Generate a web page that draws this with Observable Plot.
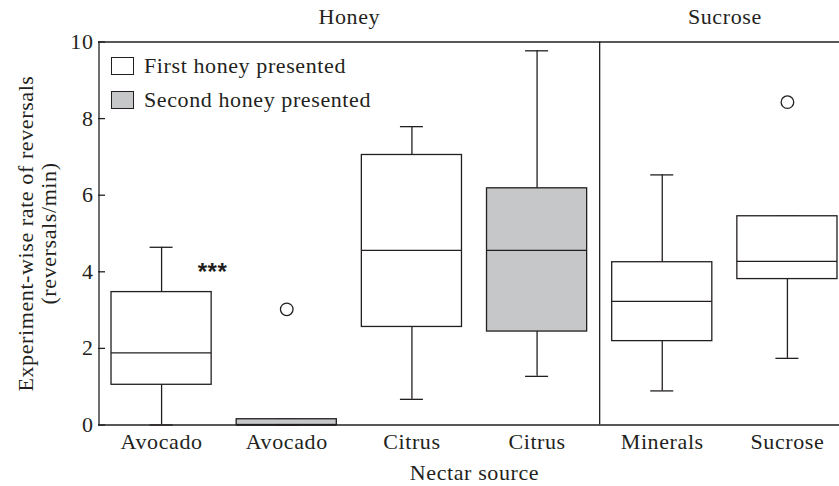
<!DOCTYPE html>
<html><head><meta charset="utf-8">
<script src="https://cdn.jsdelivr.net/npm/d3@7"></script>
<script src="https://cdn.jsdelivr.net/npm/@observablehq/plot@0.6"></script>
<style>
html,body{margin:0;padding:0;background:#fff;}
#wrap{position:relative;width:839px;height:486px;overflow:hidden;font-family:"Liberation Serif","Times New Roman",Tinos,Times,serif;}
#wrap svg{display:block;}
.leg{position:absolute;left:111px;height:20px;display:flex;align-items:center;font-size:22px;letter-spacing:0.6px;color:#231f20;white-space:nowrap;}
.sw{box-sizing:border-box;width:23px;height:18px;border:1.3px solid #231f20;margin-right:10px;}
</style></head><body><div id="wrap"></div>
<script>
// ---- data ----
const categories   = ["Avocado", "Avocado", "Citrus", "Citrus", "Minerals", "Sucrose"];
const groups       = ["Honey", "Honey", "Honey", "Honey", "Sucrose", "Sucrose"];
const presentation = ["First", "Second", "First", "Second", "Control", "Control"];
const whiskerLow   = [0.00, 0.00, 0.67, 1.27, 0.89, 1.74];
const quartile1    = [1.05, 0.00, 2.56, 2.44, 2.19, 3.81];
const medians      = [1.885, 0.00, 4.56, 4.56, 3.23, 4.27];
const quartile3    = [3.47, 0.15, 7.05, 6.18, 4.25, 5.45];
const whiskerHigh  = [4.64, 0.15, 7.79, 9.77, 6.53, 5.45];
const outlierIndex = [1, 5];
const outlierValue = [3.02, 8.43];
const yTicks       = [0, 2, 4, 6, 8, 10];
const legendLabels = ["First honey presented", "Second honey presented"];
const annotationIndex = [0];
const annotationValue = [4.1];
const annotationText  = ["***"];
const yLabel = "Experiment-wise rate of reversals\n(reversals/min)";
const xLabel = "Nectar source";

// ---- styling ----
const ink = "#231f20", grey = "#c6c7c9", sw = 1.3;
const half = 0.4, cap = 0.092;
const serif = "'Liberation Serif', 'Times New Roman', Tinos, Times, serif";
const fillFor = p => p === "Second" ? grey : "white";

const boxes = categories.map((c, i) => ({
  i, c, p: presentation[i], lo: whiskerLow[i], q1: quartile1[i],
  med: medians[i], q3: quartile3[i], hi: whiskerHigh[i]
}));
const outliers = outlierIndex.map((i, k) => ({i, v: outlierValue[k]}));
const annotations = annotationIndex.map((i, k) => ({i, v: annotationValue[k], t: annotationText[k]}));
const groupNames = [...new Set(groups)];
const headers = groupNames.map(g => {
  const idx = groups.map((x, i) => x === g ? i : -1).filter(i => i >= 0);
  return {g, center: d3.mean(idx), end: d3.max(idx)};
});
const boundaries = headers.slice(0, -1).map(h => h.end + 0.5);
const n = categories.length;

const plot = Plot.plot({
  width: 839, height: 486,
  marginLeft: 98, marginTop: 42, marginBottom: 62, marginRight: 0,
  style: {fontFamily: serif, fontSize: "22px", color: ink, background: "white", letterSpacing: "0.6px"},
  x: {domain: [-0.5, n - 0.5], range: [98.5, 849.5]},
  y: {domain: [0, 10], range: [424.5, 41.5]},
  marks: [
    Plot.ruleX(boxes, {x: "i", y1: "lo", y2: "hi", stroke: ink, strokeWidth: sw}),
    Plot.ruleY(boxes, {y: "hi", x1: d => d.i - cap, x2: d => d.i + cap, stroke: ink, strokeWidth: sw}),
    Plot.ruleY(boxes, {y: "lo", x1: d => d.i - cap, x2: d => d.i + cap, stroke: ink, strokeWidth: sw}),
    Plot.rect(boxes, {x1: d => d.i - half, x2: d => d.i + half, y1: "q1", y2: "q3",
      fill: d => fillFor(d.p), stroke: ink, strokeWidth: sw}),
    Plot.ruleY(boxes, {y: "med", x1: d => d.i - half, x2: d => d.i + half, stroke: ink, strokeWidth: sw}),
    Plot.dot(outliers, {x: "i", y: "v", r: 6.3, fill: "white", stroke: ink, strokeWidth: sw}),
    // frame
    Plot.ruleY([0, 10], {stroke: ink, strokeWidth: sw}),
    Plot.ruleX([-0.5], {y1: 0, y2: 10, stroke: ink, strokeWidth: sw}),
    Plot.ruleX(boundaries, {y1: 0, y2: 10, stroke: ink, strokeWidth: sw}),
    Plot.axisY({ticks: yTicks, tickSize: -7, tickPadding: 12, label: null, stroke: ink, strokeWidth: sw}),
    Plot.axisX({ticks: d3.range(n), tickFormat: i => categories[i], tickSize: 0, tickPadding: 9, label: null}),
    Plot.text(headers, {x: "center", text: "g", frameAnchor: "top", dy: -25.5, lineAnchor: "middle"}),
    Plot.text([xLabel], {x: [(n - 1) / 2], text: d => d, frameAnchor: "bottom", dy: 48, lineAnchor: "middle"}),
    Plot.text([yLabel], {text: d => d, frameAnchor: "left", textAnchor: "middle", rotate: -90, dx: -61.5,
      lineHeight: 1.05, lineAnchor: "middle"}),
    Plot.text(annotations, {x: "i", y: "v", text: "t", dx: 51, dy: 4, fontFamily: "'Liberation Sans', Arial, sans-serif",
      fontWeight: "bold", fontSize: 24, letterSpacing: 0})
  ]
});
const wrap = document.getElementById("wrap");
wrap.appendChild(plot);
const legendFills = ["white", grey];
const legendTops = [55.5, 90];
legendLabels.forEach((lab, k) => {
  const row = document.createElement("div");
  row.className = "leg";
  row.style.top = legendTops[k] + "px";
  const s = document.createElement("div");
  s.className = "sw";
  s.style.background = legendFills[k];
  row.appendChild(s);
  const t = document.createElement("span");
  t.textContent = lab;
  row.appendChild(t);
  wrap.appendChild(row);
});
</script></body></html>
